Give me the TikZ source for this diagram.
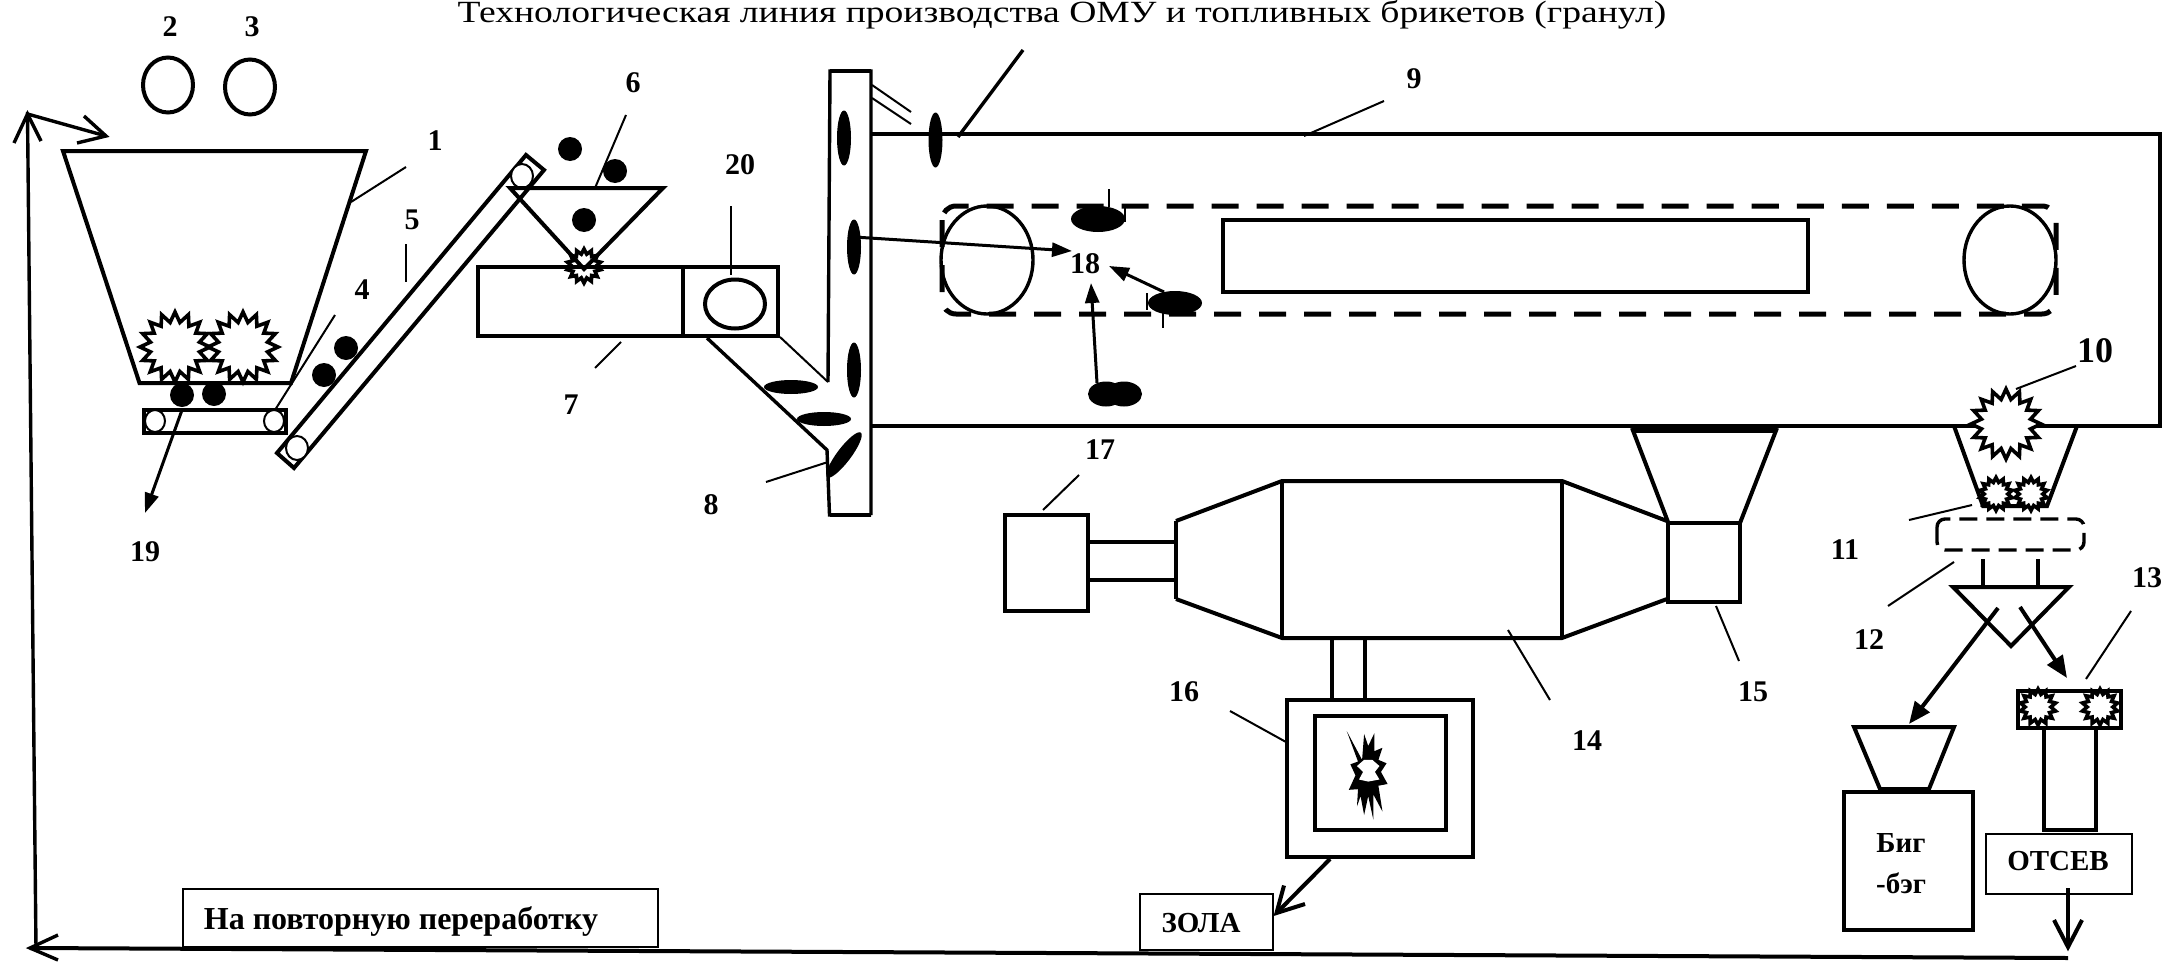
\documentclass[tikz,border=0pt]{standalone}
\usepackage{fontspec}
\setmainfont{Liberation Serif}
\usetikzlibrary{shapes.geometric,arrows.meta}
\tikzset{
  lab/.style={font=\fontsize{30}{32}\selectfont\bfseries,inner sep=0pt},
  txt/.style={font=\fontsize{29}{32}\selectfont\bfseries,inner sep=0pt},
  thick4/.style={line width=4pt,line join=miter},
  mid3/.style={line width=3.4pt},
  lead/.style={line width=2pt},
  boxthin/.style={draw,line width=2pt,inner sep=0pt,anchor=north west},
  gear/.style={star,star points=#1,star point ratio=1.4,draw,fill=white,line width=3.6pt,inner sep=0pt},
  solidarrow/.style={line width=4pt,-{Triangle[length=22pt,width=18pt]}},
  thinarrow/.style={line width=3pt,-{Triangle[length=20pt,width=14pt]}},
  ball/.style={fill=black},
  belt/.style={line width=2pt,fill=white},
  dash4/.style={line width=5pt,dash pattern=on 27pt off 18pt}
}
\begin{document}
\begin{tikzpicture}[x=1pt,y=-1pt]
\useasboundingbox (0,0) rectangle (2168,961);
\fill[white] (0,0) rectangle (2168,961);
% title
\node[inner sep=0pt,anchor=base,font=\fontsize{37.6}{40}\selectfont] (title) at (1062,23) {\scalebox{1}[0.82]{Технологическая линия производства ОМУ и топливных брикетов (гранул)}};
% return loop
\coordinate (loopTop) at (27.5,114);
\coordinate (loopBottom) at (36,948);
\coordinate (loopCorner) at (30,948);
\coordinate (loopEnd) at (2068,958);
\coordinate (hopIn) at (106,136);
\draw[thick4] (loopEnd) -- (loopCorner);
\draw[mid3] (loopBottom) -- (loopTop) -- (hopIn);
\draw[mid3] (14,143) -- (loopTop) -- (41,141);
\draw[mid3] (84,116) -- (hopIn) -- (77,143);
\draw[mid3] (58,935) -- (loopCorner) -- (58,960);
% 2 3
\draw[thick4] (168,85) ellipse [x radius=25,y radius=27.5];
\draw[thick4] (250,87) ellipse [x radius=25,y radius=27.5];
\node[lab] (n2) at (170,27) {2};
\node[lab] (n3) at (252,27) {3};
% hopper 1
\draw[thick4] (63,151) -- (366,151) -- (291,383) -- (139.5,383) -- cycle;
\node[gear=16,minimum size=70pt] (g1) at (175,347) {};
\node[gear=16,minimum size=70pt] (g2) at (243,347) {};
\draw[line width=4pt] (139.5,383) -- (291,383);
\node[lab] (n1) at (435,141) {1};
\draw[lead] (406,167) -- (351,202);
% conveyor 4
\fill[ball] (182,395) ellipse [x radius=12,y radius=12];
\fill[ball] (214,394) ellipse [x radius=12,y radius=12];
\draw[thick4] (143.5,410) rectangle (286,433);
\draw[belt] (155,421) ellipse [x radius=10,y radius=11];
\draw[belt] (274,421) ellipse [x radius=10,y radius=11];
\node[lab] (n4) at (362,290) {4};
\draw[lead] (335,315) -- (275,410);
\draw[thinarrow] (182,410) -- (145,513);
\node[lab] (n19) at (145,552) {19};
% conveyor 5
\draw[thick4] (277,453) -- (294,468) -- (544,170) -- (526,155) -- cycle;
\draw[belt] (297,448) ellipse [x radius=11,y radius=12];
\draw[belt] (522,176) ellipse [x radius=11,y radius=12];
\node[lab] (n5) at (412,220) {5};
\draw[lead] (406,244) -- (406,282);
\foreach \p in {(324,375),(346,348),(570,149),(615,171),(584,220)} \fill[ball] \p ellipse [x radius=12,y radius=12];
% hopper 6 + gear
\node[gear=14,minimum size=34pt] (g6) at (584,266) {};
\draw[thick4] (510,188) -- (663,188) -- (584,269) -- cycle;
\node[lab] (n6) at (633,83) {6};
\draw[lead] (626,115) -- (595,188);
% mixer 7
\draw[thick4] (478,267) rectangle (778,336);
\draw[mid3] (683,267) -- (683,336);
\draw[thick4] (735,304) ellipse [x radius=30,y radius=24.5];
\node[lab] (n20) at (740,165) {20};
\draw[lead] (731,206) -- (731,275);
\draw[lead] (621,342) -- (595,368);
\node[lab] (n7) at (571,405) {7};
% chute + elevator
\draw[mid3] (707,338) -- (827,450) -- (829.5,515) -- (871,515);
\draw[lead] (780,337) -- (828,382);
\draw[mid3] (828,382) -- (830,71) -- (871,71) -- (871,515);
\draw[thick4] (830,71) -- (871,71);
\draw[thick4] (829.5,515) -- (871,515);
\draw[lead] (872,85) -- (911,112);
\draw[lead] (872,98) -- (911,124);
\foreach \p in {(844,138),(854,247),(854,370),(935.5,140)} \fill[ball] \p ellipse [x radius=7,y radius=27.5];
\fill[ball] (791,387) ellipse [x radius=27,y radius=7];
\fill[ball] (824,419) ellipse [x radius=27,y radius=7];
\fill[ball,rotate around={53:(844,455)}] (844,455) ellipse [x radius=28,y radius=7];
\draw[lead] (828,462) -- (766,482);
\node[lab] (n8) at (711,505) {8};
\draw[mid3] (1023,50) -- (958,137);
% dryer 9
\draw[thick4] (871,134) -- (2160,134) -- (2160,426) -- (871,426);
\draw[dash4,rounded corners=14pt] (942,206) rectangle (2056,314);
\draw[mid3] (987,260) ellipse [x radius=46,y radius=54];
\draw[mid3] (2010,260) ellipse [x radius=46,y radius=54];
\draw[thick4] (1223,220) rectangle (1808,292);
\node[lab] (n9) at (1414,79) {9};
\draw[lead] (1384,101) -- (1304,136);
\fill[ball] (1098,219) ellipse [x radius=27,y radius=13];
\fill[ball] (1175,303) ellipse [x radius=27,y radius=12];
\fill[ball] (1106,394) ellipse [x radius=18,y radius=12.5];
\fill[ball] (1124,394) ellipse [x radius=18,y radius=12.5];
\draw[lead] (1109,189) -- (1109,207);
\draw[lead] (1125,207) -- (1125,222);
\draw[lead] (1163,313) -- (1163,328);
\draw[lead] (1147,293) -- (1147,310);
\node[lab] (n18) at (1085,264) {18};
\draw[thinarrow] (854,237) -- (1072,251);
\draw[thinarrow] (1164,292) -- (1109,266);
\draw[thinarrow] (1097,383) -- (1091,283);
% 10
\draw[thick4] (1954,426) -- (1983,506) -- (2047,506) -- (2077,426);
\node[gear=16,minimum size=70pt] (g10) at (2006,424) {};
\node[gear=14,minimum size=33pt] (g10a) at (1996,494) {};
\node[gear=14,minimum size=33pt] (g10b) at (2031,494) {};
\node[lab,font=\fontsize{36}{38}\selectfont\bfseries] (n10) at (2095,351) {10};
\draw[lead] (2076,366) -- (2016,389);
\draw[lead] (1972,505) -- (1909,520);
\node[lab] (n11) at (1845,550) {11};
\draw[line width=3.4pt,dash pattern=on 18pt off 9pt,rounded corners=8pt] (1937,519) rectangle (2084,550);
\draw[lead] (1954,562) -- (1888,606);
\node[lab] (n12) at (1869,640) {12};
\draw[mid3] (1983,559) -- (1983,585);
\draw[mid3] (2038,559) -- (2038,585);
\draw[thick4] (1953,587) -- (2069,587) -- (2011,646) -- cycle;
\draw[solidarrow] (1998,608) -- (1909,724);
\draw[solidarrow] (2020,607) -- (2067,678);
% bag
\draw[thick4] (1854,727) -- (1954,727) -- (1929,789) -- (1880,789) -- cycle;
\node[draw,line width=4pt,anchor=north west,inner sep=0pt,minimum width=129pt,minimum height=138pt] (bag) at (1842,790) {};
\node[txt] (t1) at (1901,843) {Биг};
\node[txt] (t2) at (1901,883) {-бэг};
% 13
\draw[lead] (2131,611) -- (2086,679);
\node[lab] (n13) at (2147,578) {13};
\draw[thick4] (2018,691) rectangle (2121,728);
\node[gear=14,minimum size=36pt] (g13a) at (2038,707) {};
\node[gear=14,minimum size=36pt] (g13b) at (2100,707) {};
\draw[thick4] (2044,728) rectangle (2096,830);
\node[boxthin,minimum width=146pt,minimum height=60pt] (ots) at (1985,833) {};
\node[txt] (t3) at (2058,861) {ОТСЕВ};
\coordinate (otsFrom) at (2068,888);
\coordinate (otsTip) at (2068,947);
\draw[thick4] (otsFrom) -- (otsTip);
\draw[thick4] (2054,920) -- (otsTip) -- (2082,920);
% 14-17
\node[draw,line width=4pt,anchor=north west,inner sep=0pt,minimum width=83pt,minimum height=96pt] (b17) at (1003,513) {};
\node[lab] (n17) at (1100,450) {17};
\draw[lead] (1079,475) -- (1043,510);
\draw[thick4] (1088,542) -- (1176,542);
\draw[thick4] (1088,580) -- (1176,580);
\draw[thick4] (1176,521) -- (1282,481) -- (1562,481) -- (1667,521);
\draw[thick4] (1176,599) -- (1282,638) -- (1562,638) -- (1667,599);
\draw[mid3] (1176,521) -- (1176,599);
\draw[thick4] (1282,481) -- (1282,638);
\draw[mid3] (1562,481) -- (1562,638);
\draw[thick4] (1668,523) rectangle (1740,602);
\draw[thick4] (1668,522) -- (1632,428);
\draw[thick4] (1740,523) -- (1777,428);
\draw[line width=7pt] (1632,429) -- (1777,429);
\draw[lead] (1716,606) -- (1739,661);
\node[lab] (n15) at (1753,692) {15};
\draw[lead] (1508,630) -- (1550,700);
\node[lab] (n14) at (1587,741) {14};
\draw[mid3] (1332,638) -- (1332,700);
\draw[thick4] (1365,638) -- (1365,700);
\draw[thick4] (1287,700) rectangle (1473,857);
\draw[thick4] (1315,715.5) rectangle (1446,830);
\node[lab] (n16) at (1184,692) {16};
\draw[lead] (1230,711) -- (1286,742);
\begin{scope}[shift={(950,420)},x=0.51pt,y=-0.345pt]
\fill (778,902)--(808,985)--(812,910)--(820,945)--(832,908)--(832,960)--(848,950)--(840,985)--(856,995)--(845,1020)--(858,1055)--(840,1060)--(848,1135)--(830,1085)--(830,1158)--(820,1090)--(812,1145)--(805,1090)--(798,1120)--(800,1070)--(782,1072)--(795,1030)--(785,998)--(800,990)--cycle;
\fill[white] (812,985)--(828,985)--(842,1003)--(833,1020)--(842,1042)--(820,1048)--(802,1042)--(810,1020)--(798,1003)--cycle;
\end{scope}
\node[boxthin,minimum width=133pt,minimum height=56pt] (zola) at (1139,893) {};
\node[txt] (t4) at (1201,923) {ЗОЛА};
\coordinate (zFrom) at (1330,859);
\coordinate (zTip) at (1276.5,913);
\draw[thick4] (zFrom) -- (zTip);
\draw[thick4] (1284,885.5) -- (zTip) -- (1305,904);
% reprocessing
\node[boxthin,minimum width=475pt,minimum height=58pt] (rep) at (182,888) {};
\node[txt,font=\fontsize{32}{34}\selectfont\bfseries] (t5) at (401,921) {На повторную переработку};
\end{tikzpicture}
\end{document}
